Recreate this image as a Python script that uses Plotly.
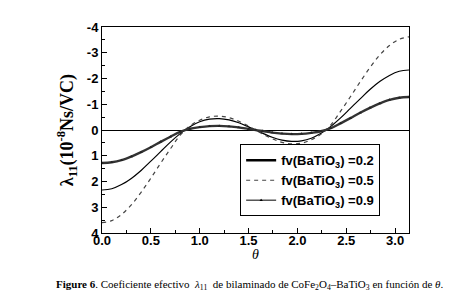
import plotly.graph_objects as go

theta = [0.0, 0.1, 0.2, 0.3, 0.4, 0.5, 0.6, 0.7, 0.8, 0.9, 1.0, 1.1, 1.2, 1.3, 1.4, 1.5,
         1.571, 1.642, 1.742, 1.842, 1.942, 2.042, 2.142, 2.242, 2.342, 2.442, 2.542,
         2.642, 2.742, 2.842, 2.942, 3.042, 3.142]

fv02 = [2.33, 2.28, 2.12, 1.88, 1.57, 1.21, 0.84, 0.47, 0.14, -0.13, -0.32, -0.42, -0.44, -0.39, -0.28, -0.12,
        0.0, 0.12, 0.28, 0.39, 0.44, 0.42, 0.32, 0.13, -0.14, -0.47, -0.84, -1.21, -1.57, -1.88, -2.12, -2.28, -2.33]

fv05 = [3.60, 3.52, 3.28, 2.91, 2.42, 1.87, 1.29, 0.73, 0.20, -0.16, -0.38, -0.51, -0.54, -0.48, -0.34, -0.15,
        0.0, 0.15, 0.34, 0.48, 0.54, 0.51, 0.38, 0.16, -0.20, -0.73, -1.29, -1.87, -2.42, -2.91, -3.28, -3.52, -3.62]

fv09 = [1.28, 1.25, 1.17, 1.03, 0.86, 0.67, 0.46, 0.26, 0.07, -0.05, -0.11, -0.15, -0.16, -0.14, -0.10, -0.04,
        0.0, 0.04, 0.10, 0.14, 0.16, 0.15, 0.11, 0.05, -0.07, -0.26, -0.46, -0.67, -0.86, -1.03, -1.17, -1.25, -1.28]

series_names = ["fv(BaTiO<sub>3</sub>) =0.2", "fv(BaTiO<sub>3</sub>) =0.5", "fv(BaTiO<sub>3</sub>) =0.9"]
y_ticks = [-4, -3, -2, -1, 0, 1, 2, 3, 4]
x_ticks = [0.0, 0.5, 1.0, 1.5, 2.0, 2.5, 3.0]

fig = go.Figure()
# curves (the 0.2 legend entry uses a thicker proxy line, as in the original)
fig.add_trace(go.Scatter(x=theta, y=fv02, mode="lines", line=dict(color="black", width=1.2, shape="spline"),
                         showlegend=False))
fig.add_trace(go.Scatter(x=[None], y=[None], mode="lines", line=dict(color="black", width=2.5),
                         name=series_names[0]))
fig.add_trace(go.Scatter(x=theta, y=fv05, mode="lines", line=dict(color="#444", width=1.2, dash="4px,4px", shape="spline"),
                         name=series_names[1]))
fig.add_trace(go.Scatter(x=theta, y=fv09, mode="lines+markers",
                         line=dict(color="#333", width=2.4, shape="spline"),
                         marker=dict(symbol="triangle-up", size=3, color="#222"),
                         showlegend=False))
fig.add_trace(go.Scatter(x=[None], y=[None], mode="lines+markers", line=dict(color="black", width=1),
                         marker=dict(symbol="triangle-up", size=3, color="black"),
                         name=series_names[2]))

tickfont = dict(family="Liberation Sans, Arial, sans-serif", size=13, color="black", weight="bold")
fig.update_layout(
    width=451, height=301,
    margin=dict(l=94, r=50, t=19, b=76),
    paper_bgcolor="white", plot_bgcolor="white",
    showlegend=True,
    legend=dict(x=0.45, y=0.43, xanchor="left", yanchor="top",
                bordercolor="black", borderwidth=1, bgcolor="white",
                font=dict(family="Liberation Sans, Arial, sans-serif", size=13, color="black", weight="bold"),
                tracegroupgap=0, itemwidth=30),
    xaxis=dict(range=[0, 3.142], tickvals=x_ticks, ticktext=["%.1f" % v for v in x_ticks],
               ticks="inside", ticklen=5, tickcolor="black", ticklabelstandoff=-5,
               minor=dict(dtick=0.25, ticks="inside", ticklen=3, tickcolor="black"),
               showline=True, linecolor="black", linewidth=1, mirror=True,
               showgrid=False, zeroline=False, tickfont=tickfont),
    yaxis=dict(range=[4, -4], tickvals=y_ticks, ticktext=["%d" % v for v in y_ticks],
               ticks="inside", ticklen=5, tickcolor="black",
               minor=dict(dtick=0.5, ticks="inside", ticklen=3, tickcolor="black"),
               showline=True, linecolor="black", linewidth=1, mirror=True,
               showgrid=False, zeroline=True, zerolinecolor="black", zerolinewidth=1,
               tickfont=tickfont,
               title=dict(text="<b>λ<sub>11</sub>(10<sup>-8</sup>Ns/VC)</b>",
                          font=dict(family="Liberation Serif, Times New Roman, serif", size=18, color="black"), standoff=8)),
)

# x-axis title
fig.add_annotation(x=0.5, y=0, xref="paper", yref="paper", yshift=-12,
                   xanchor="center", yanchor="top", showarrow=False, text="<i>θ</i>",
                   font=dict(family="Liberation Serif, Times New Roman, serif", size=14, color="black"))

fig.add_annotation(x=0.479, y=0, xref="paper", yref="paper", yshift=-43,
                   xanchor="center", yanchor="top", showarrow=False,
                   text="<b>Figure 6</b>. Coeficiente efectivo  <i>λ</i><sub>11</sub>  de bilaminado de CoFe<sub>2</sub>O<sub>4</sub>–BaTiO<sub>3</sub> en función de <i>θ</i>.",
                   font=dict(family="Liberation Serif, Times New Roman, serif", size=11, color="black"))

fig.write_html("out.html")
